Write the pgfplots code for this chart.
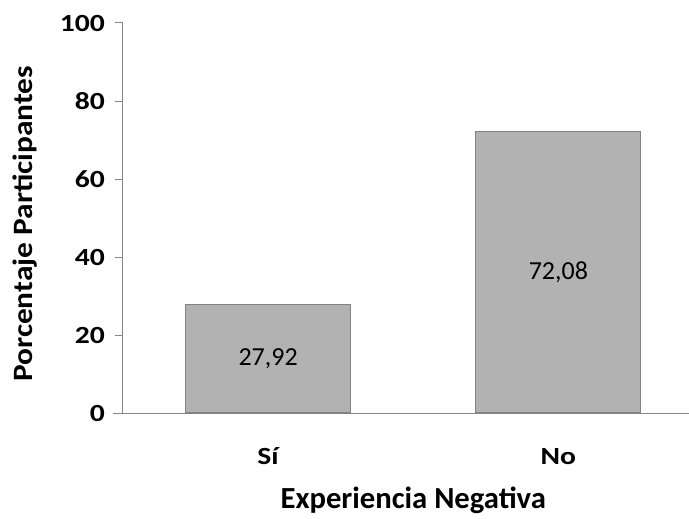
\documentclass[border=0pt]{standalone}
\usepackage{fontspec}
\setmainfont{Carlito}
\newfontfamily\tickfont{Carlito}[FakeStretch=1.2]
\newfontfamily\ylabfont{Carlito}[FakeStretch=1.12]
\usepackage{pgfplots}
\pgfplotsset{compat=1.18}
\definecolor{barfill}{RGB}{178,178,178}
\definecolor{baredge}{RGB}{130,130,130}
\definecolor{axisgray}{RGB}{134,134,134}
\begin{document}
\begin{tikzpicture}
\useasboundingbox (-92.25pt,-78.75pt) rectangle (424.5pt,309.75pt);
\begin{axis}[
  at={(0,0)}, anchor=south west,
  scale only axis, width=424.5pt, height=292.5pt,
  xmin=-0.5, xmax=1.45, ymin=0, ymax=100,
  ytick={0,20,40,60,80,100},
  xtick={0,1}, xticklabels={Sí,No},
  axis y line*=left, axis x line*=bottom,
  axis line style={axisgray, line width=0.75pt, -},
  y tick style={axisgray, line width=0.75pt},
  tick align=outside, major tick length=6pt,
  x tick style={draw=none},
  /pgf/number format/assume math mode=true,
  yticklabel style={font=\fontsize{18.5}{20}\selectfont\tickfont\bfseries, xshift=-4pt},
  xticklabel style={font=\fontsize{18.5}{20}\selectfont\tickfont\bfseries, anchor=base, yshift=-32.5pt},
  xlabel={Experiencia Negativa},
  ylabel={Porcentaje Participantes},
  xlabel style={font=\fontsize{23}{25}\selectfont\bfseries, at={([yshift=-71.5pt]axis description cs:0.5128,0)}, anchor=base},
  ylabel style={font=\fontsize{21}{23}\selectfont\ylabfont\bfseries, at={([xshift=-67.5pt]axis description cs:0,0.485)}, anchor=base},
  clip=false,
]
\addplot[ybar, bar width=0.569, bar shift=0pt, fill=barfill, draw=baredge, line width=0.8pt] coordinates {(0,27.92) (1,72.08)};
\addplot[draw=none, mark=none, nodes near coords, point meta=explicit symbolic,
  every node near coord/.style={anchor=center, font=\fontsize{19.5}{21}\selectfont}]
  table[meta=label] {
x y label
0 13.96 27,92
1 36.04 72,08
};
\draw[axisgray, line width=0.75pt] ([xshift=-7.5pt]rel axis cs:0,0) -- (rel axis cs:0,0);
\end{axis}
\end{tikzpicture}
\end{document}
